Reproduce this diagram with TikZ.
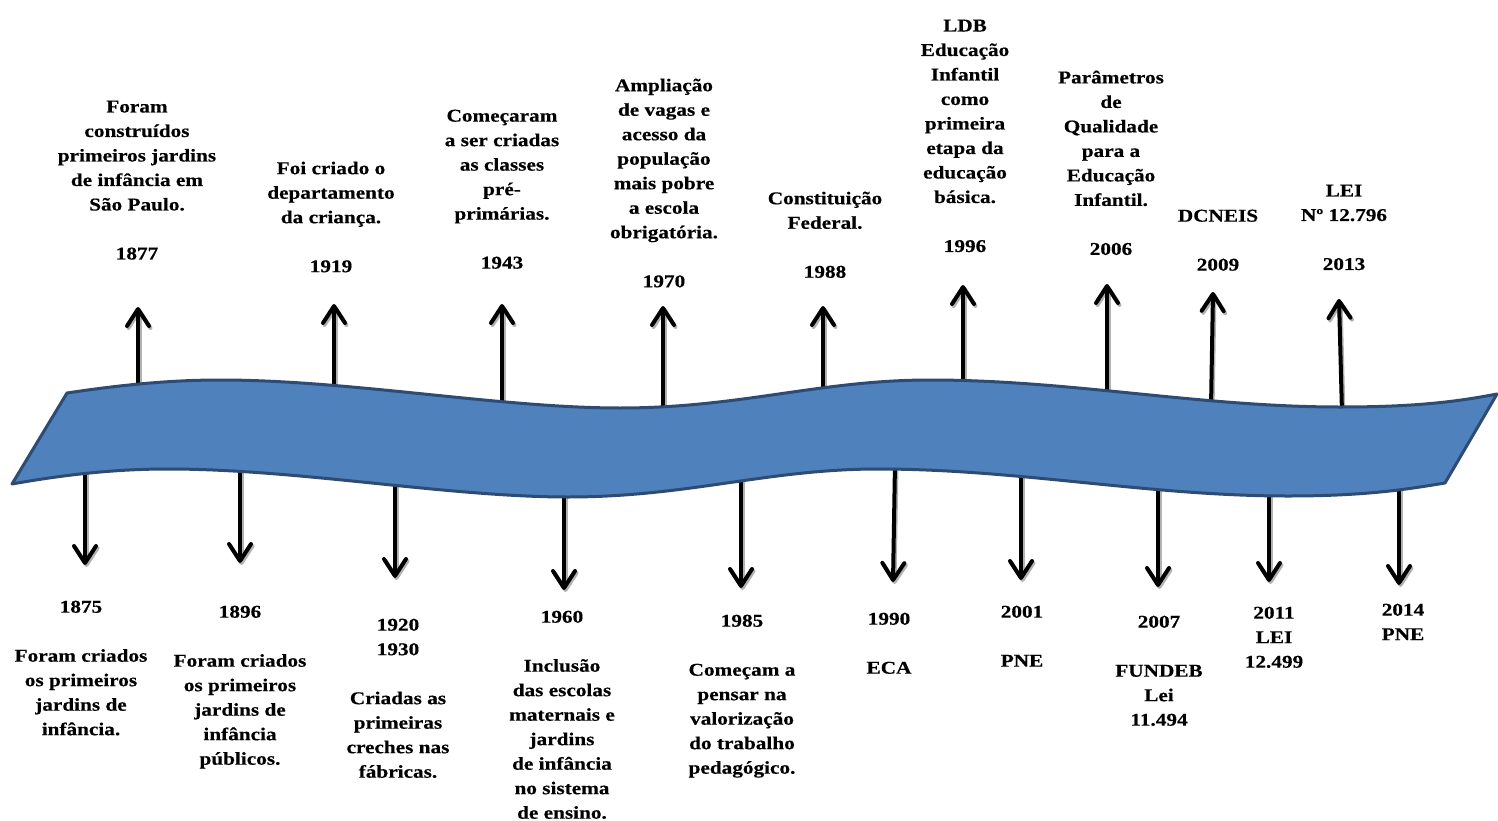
\documentclass[tikz,border=0pt]{standalone}
\usepackage{fontspec}
\setmainfont{Liberation Serif}[FakeStretch=1.18, BoldFeatures={FakeBold=0.4}]
\usetikzlibrary{arrows.meta}
\definecolor{faixa}{RGB}{79,129,189}
\definecolor{borda}{RGB}{45,75,115}
\newcommand{\evfont}{\fontsize{18}{24.5}\selectfont\bfseries}

\begin{document}
\begin{tikzpicture}[x=1pt, y=-1pt,
    seta/.style={line width=4pt, -{Straight Barb[round, length=17pt, width=22pt, line width=4pt]}},
    sombra/.style={seta, draw=black!30},
    evento/.style={font=\evfont, align=center, inner sep=0pt, anchor=north}]
  \useasboundingbox (0,0) rectangle (1498,821);

  % Setas (base dentro da faixa, ponta livre)
  \foreach \nm/\xa/\ya/\xb/\yb in {u1877/138/392/138/307, u1919/334/392/334/304,
      u1943/502/408/502/304, u1970/663/413/663/306, u1988/823/394/823/306,
      u1996/963/388/963/285, u2006/1107/393/1107/284, u2009/1211/407/1213/292,
      u2013/1342/413/1339/299,
      d1875/85/467/85/565, d1896/240/463/240/563, d1920/395/480/395/578,
      d1960/564/491/564/590, d1985/741/476/741/588, d1990/895/463/893/582,
      d2001/1021/472/1021/580, d2007/1158/484/1158/587, d2011/1269/489/1269/582,
      d2014/1399/483/1399/585}{
    \coordinate (\nm-b) at (\xa,\ya);
    \coordinate (\nm-t) at (\xb,\yb);
    \draw[sombra] ([shift={(1.5,2)}]\nm-b) -- ([shift={(1.5,2)}]\nm-t);
    \draw[seta] (\nm-b) -- (\nm-t);
  }

  % Faixa azul ondulada
  \draw[fill=faixa, draw=borda, line width=3pt, line join=round]
    (67,393) .. controls (120,385) and (170,380) .. (220,380)
    .. controls (350,380) and (500,408) .. (620,408)
    .. controls (740,408) and (820,380) .. (930,380)
    .. controls (1070,380) and (1200,407) .. (1340,407)
    .. controls (1420,407) and (1460,401) .. (1497,394)
    -- (1445,483)
    .. controls (1408,489) and (1368,496) .. (1288,496)
    .. controls (1148,496) and (1018,469) .. (878,469)
    .. controls (768,469) and (688,497) .. (568,497)
    .. controls (448,497) and (298,469) .. (168,469)
    .. controls (118,469) and (68,474) .. (12,484)
    -- cycle;

  % Eventos acima da faixa
  \node[evento] (t1877) at (137,100.5) {Foram\\construídos\\primeiros jardins\\de infância em\\São Paulo.\\[24.5pt]1877};
  \node[evento] (t1919) at (331,161.5) {Foi criado o\\departamento\\da criança.\\[24.5pt]1919};
  \node[evento] (t1943) at (502,109.5) {Começaram\\a ser criadas\\as classes\\pré-\\primárias.\\[24.5pt]1943};
  \node[evento] (t1970) at (664,78.5) {Ampliação\\de vagas e\\acesso da\\população\\mais pobre\\a escola\\obrigatória.\\[24.5pt]1970};
  \node[evento] (t1988) at (825,191.5) {Constituição\\Federal.\\[24.5pt]1988};
  \node[evento] (t1996) at (965,19.5) {LDB\\Educação\\Infantil\\como\\primeira\\etapa da\\educação\\básica.\\[24.5pt]1996};
  \node[evento] (t2006) at (1111,70.5) {Parâmetros\\de\\Qualidade\\para a\\Educação\\Infantil.\\[24.5pt]2006};
  \node[evento] (t2009) at (1218,209.5) {DCNEIS\\[24.5pt]2009};
  \node[evento] (t2013) at (1344,184.5) {LEI\\Nº 12.796\\[24.5pt]2013};

  % Eventos abaixo da faixa
  \node[evento] (b1875) at (81,600.5) {1875\\[24.5pt]Foram criados\\os primeiros\\jardins de\\infância.};
  \node[evento] (b1896) at (240,605.5) {1896\\[24.5pt]Foram criados\\os primeiros\\jardins de\\infância\\públicos.};
  \node[evento] (b1920) at (398,618.5) {1920\\1930\\[24.5pt]Criadas as\\primeiras\\creches nas\\fábricas.};
  \node[evento] (b1960) at (562,610.5) {1960\\[24.5pt]Inclusão\\das escolas\\maternais e\\jardins\\de infância\\no sistema\\de ensino.};
  \node[evento] (b1985) at (742,614.5) {1985\\[24.5pt]Começam a\\pensar na\\valorização\\do trabalho\\pedagógico.};
  \node[evento] (b1990) at (889,612.5) {1990\\[24.5pt]ECA};
  \node[evento] (b2001) at (1022,605.5) {2001\\[24.5pt]PNE};
  \node[evento] (b2007) at (1159,615.5) {2007\\[24.5pt]FUNDEB\\Lei\\11.494};
  \node[evento] (b2011) at (1274,606.5) {2011\\LEI\\12.499};
  \node[evento] (b2014) at (1403,603.5) {2014\\PNE};
\end{tikzpicture}
\end{document}
